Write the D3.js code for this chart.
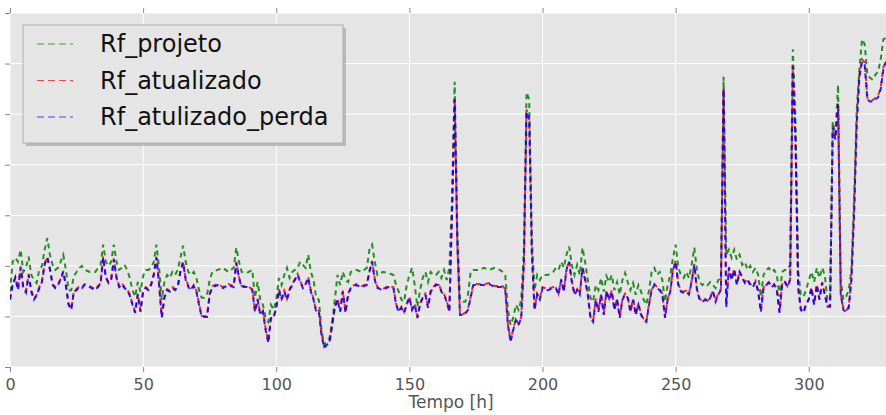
<!DOCTYPE html>
<html>
<head>
<meta charset="utf-8">
<script src="https://cdn.jsdelivr.net/npm/d3@7/dist/d3.min.js"></script>
<style>
    body { margin: 0; background: #fff; }
    svg { display: block; font-family: "DejaVu Sans", sans-serif; }
</style>
</head>
<body>
<svg id="chart" width="886" height="415"></svg>
<script>
var hours = [0,1,2,3,4,5,6,7,8,9,10,11,12,13,14,15,16,17,18,19,20,21,22,23,24,25,26,27,28,30,32,34,35,36,37,38,39,40,
    41,42,43,44,45,46,47,48,49,50,51,52,53,54,55,56,57,58,59,60,61,62,63,64,65,66,67,68,69,70,71,72,73,74,75,76,78,80,82,84,85,86,87,89,
    91,92,93,94,95,96,97,98,99,100,101,102,103,104,105,106,108,109,110,111,112,113,114,115,116,117,118,119,120,121,122,123,124,125,126,127,128,130,132,134,135,136,137,138,140,142,144,145,146,147,148,149,
    150,151,152,153,154,155,156,157,158,159,160,161,162,163,164,165,166,167,168,169,170,171,172,173,174,176,178,180,182,184,185,186,187,188,189,190,191,192,193,194,195,196,197,198,199,
    200,202,204,205,206,207,208,209,210,211,212,213,214,215,216,217,218,219,220,221,222,223,224,225,226,227,228,229,230,231,232,233,234,235,236,237,238,239,240,241,242,243,244,245,246,247,248,249,
    250,251,252,253,254,255,256,257,258,259,260,261,262,263,264,265,266,267,268,269,270,271,272,273,274,275,276,277,278,279,280,281,282,283,284,285,286,287,288,289,290,291,292,293,294,295,296,297,298,299,
    300,301,302,303,304,305,306,307,308,309,310,311,312,313,314,315,316,317,318,319,320,321,322,323,324,325,326,327,328,329];

var rfProjeto = [1.49,2.08,2.16,2.08,2.32,1.88,1.96,2.18,1.82,1.72,1.66,1.92,2.00,2.32,2.55,2.22,2.02,1.92,1.96,2.08,2.22,1.92,1.52,1.52,1.80,1.88,1.96,2.00,1.92,1.88,1.88,2.02,2.42,2.08,2.00,2.08,2.42,2.08,
    1.92,1.96,2.02,1.92,1.76,1.52,1.39,1.68,1.49,1.80,1.92,1.92,1.96,2.08,2.42,1.96,1.33,1.68,1.82,1.76,1.88,1.82,1.92,2.16,2.40,2.08,1.88,1.82,1.88,1.76,1.52,1.37,1.37,1.43,1.72,1.88,1.92,1.96,1.88,1.96,2.36,2.08,1.88,1.86,
    1.92,1.37,1.68,1.33,1.23,0.97,0.89,1.23,1.13,1.33,1.76,1.62,1.82,1.96,1.76,1.88,1.96,2.08,2.02,1.96,2.22,1.88,1.72,1.37,1.33,0.73,0.44,0.53,0.57,0.89,1.33,1.82,1.62,1.88,1.72,1.68,1.88,1.92,1.88,1.96,2.32,2.42,2.08,1.82,1.88,1.86,1.82,1.62,1.49,1.33,1.29,1.62,
    1.82,1.96,1.62,1.19,1.52,1.76,1.88,1.68,1.88,1.82,1.82,1.88,1.76,1.92,1.72,1.96,3.31,5.64,2.71,1.33,1.29,1.29,1.43,1.88,1.92,1.92,1.96,1.92,1.96,1.92,1.88,1.82,1.13,0.83,0.97,1.23,1.13,1.33,2.32,5.43,5.29,2.51,1.52,1.82,1.72,
    1.82,1.82,1.88,1.96,1.92,2.08,1.96,2.22,2.38,2.02,1.82,2.02,1.82,2.36,2.08,1.72,1.37,1.29,1.62,1.52,1.76,1.49,1.80,1.68,1.82,1.52,1.68,1.43,1.72,1.86,1.68,1.52,1.66,1.43,1.62,1.49,1.33,1.23,1.52,1.88,1.96,1.82,1.88,1.72,1.29,1.62,1.82,2.16,
    2.42,1.96,1.82,1.76,1.88,1.76,2.02,2.36,1.92,1.68,1.62,1.66,1.62,1.68,1.62,1.56,1.72,1.76,5.74,2.22,2.32,2.16,2.32,2.12,2.22,2.02,2.08,1.92,2.00,1.88,1.96,1.82,1.39,1.82,1.92,1.96,1.88,1.92,1.82,1.39,1.88,1.92,1.92,2.02,6.28,4.89,1.92,1.43,1.39,1.52,
    1.72,1.88,1.68,1.96,1.76,1.96,1.82,1.33,1.33,4.85,4.59,5.58,1.72,1.33,1.39,1.52,1.92,3.31,5.09,5.88,6.48,6.38,5.78,5.72,5.68,5.78,5.84,6.08,6.48,6.51];

var rfAtualizado = [1.35,1.64,1.78,1.55,1.99,1.58,1.50,1.84,1.51,1.35,1.43,1.58,1.70,2.05,2.18,1.95,1.64,1.58,1.64,1.74,1.90,1.62,1.25,1.15,1.51,1.54,1.60,1.58,1.64,1.60,1.54,1.66,2.19,1.78,1.68,1.74,2.15,1.78,
    1.60,1.66,1.58,1.54,1.43,1.25,1.09,1.45,1.11,1.51,1.58,1.54,1.64,1.84,2.18,1.64,0.99,1.39,1.54,1.51,1.58,1.54,1.60,1.90,2.09,1.74,1.60,1.54,1.62,1.51,1.25,1.01,1.01,1.01,1.45,1.60,1.64,1.58,1.64,1.60,2.08,1.78,1.60,1.60,
    1.54,1.11,1.35,1.05,1.11,0.76,0.50,0.99,0.99,1.19,1.54,1.35,1.51,1.35,1.54,1.64,1.84,1.70,1.58,1.64,1.78,1.51,1.35,1.11,1.11,0.65,0.40,0.46,0.50,0.85,1.19,1.35,1.11,1.51,1.09,1.45,1.58,1.64,1.60,1.64,1.90,2.10,1.74,1.58,1.54,1.60,1.58,1.25,1.11,1.19,1.09,1.25,
    1.39,1.15,1.25,0.99,1.25,1.39,1.45,1.19,1.51,1.58,1.64,1.64,1.51,1.45,1.31,1.11,3.04,5.33,2.45,1.05,1.05,1.07,1.15,1.39,1.64,1.64,1.64,1.66,1.60,1.60,1.60,1.54,0.85,0.52,0.75,0.95,0.85,0.99,2.05,5.09,4.93,2.25,1.15,1.45,1.35,
    1.58,1.54,1.58,1.58,1.45,1.74,1.51,1.94,2.10,1.70,1.45,1.54,1.45,1.98,1.74,1.45,0.99,0.91,1.35,1.11,1.45,1.05,1.51,1.35,1.51,1.15,1.35,0.99,1.35,1.45,1.39,1.11,1.35,1.05,1.25,1.05,0.95,0.91,1.25,1.54,1.64,1.58,1.54,1.45,0.99,1.35,1.51,1.94,
    2.10,1.64,1.51,1.49,1.51,1.45,1.70,2.04,1.54,1.35,1.31,1.35,1.31,1.39,1.51,1.31,1.45,1.54,5.52,1.21,1.98,1.74,1.94,1.64,1.90,1.78,1.68,1.74,1.64,1.60,1.70,1.51,1.11,1.58,1.64,1.68,1.60,1.64,1.54,1.09,1.64,1.70,1.60,1.74,5.98,4.54,1.60,1.15,1.09,1.25,
    1.35,1.58,1.25,1.64,1.35,1.68,1.45,1.21,1.21,4.77,4.53,5.23,1.45,1.15,1.11,1.19,1.74,3.04,4.82,5.77,6.08,6.02,5.32,5.28,5.28,5.32,5.36,5.52,5.92,6.08];

var rfAtulizadoPerda = [1.33,1.62,1.76,1.52,1.96,1.56,1.47,1.82,1.49,1.33,1.41,1.56,1.68,2.02,2.16,1.92,1.62,1.56,1.62,1.72,1.88,1.60,1.23,1.13,1.49,1.52,1.58,1.56,1.62,1.58,1.52,1.64,2.16,1.76,1.66,1.72,2.12,1.76,
    1.58,1.64,1.56,1.52,1.41,1.23,1.07,1.43,1.09,1.49,1.56,1.52,1.62,1.82,2.16,1.62,0.97,1.37,1.52,1.49,1.56,1.52,1.58,1.88,2.06,1.72,1.58,1.52,1.60,1.49,1.23,0.99,0.99,0.99,1.43,1.58,1.62,1.56,1.62,1.58,2.06,1.76,1.58,1.58,
    1.52,1.09,1.33,1.03,1.09,0.73,0.48,0.97,0.97,1.17,1.52,1.33,1.49,1.33,1.52,1.62,1.82,1.68,1.56,1.62,1.76,1.49,1.33,1.09,1.09,0.63,0.38,0.44,0.48,0.83,1.17,1.33,1.09,1.49,1.07,1.43,1.56,1.62,1.58,1.62,1.88,2.08,1.72,1.56,1.52,1.58,1.56,1.23,1.09,1.17,1.07,1.23,
    1.37,1.13,1.23,0.97,1.23,1.37,1.43,1.17,1.49,1.56,1.62,1.62,1.49,1.43,1.29,1.09,3.01,5.29,2.42,1.03,1.03,1.05,1.13,1.37,1.62,1.62,1.62,1.64,1.58,1.58,1.58,1.52,0.83,0.50,0.73,0.93,0.83,0.97,2.02,5.05,4.89,2.22,1.13,1.43,1.33,
    1.56,1.52,1.56,1.56,1.43,1.72,1.49,1.92,2.08,1.68,1.43,1.52,1.43,1.96,1.72,1.43,0.97,0.89,1.33,1.09,1.43,1.03,1.49,1.33,1.49,1.13,1.33,0.97,1.33,1.43,1.37,1.09,1.33,1.03,1.23,1.03,0.93,0.89,1.23,1.52,1.62,1.56,1.52,1.43,0.97,1.33,1.49,1.92,
    2.08,1.62,1.49,1.47,1.49,1.43,1.68,2.02,1.52,1.33,1.29,1.33,1.29,1.37,1.49,1.29,1.43,1.52,5.49,1.19,1.96,1.72,1.92,1.62,1.88,1.76,1.66,1.72,1.62,1.58,1.68,1.49,1.09,1.56,1.62,1.66,1.58,1.62,1.52,1.07,1.62,1.68,1.58,1.72,5.94,4.50,1.58,1.13,1.07,1.23,
    1.33,1.56,1.23,1.62,1.33,1.66,1.43,1.19,1.19,4.73,4.50,5.19,1.43,1.13,1.09,1.17,1.72,3.01,4.79,5.74,6.04,5.98,5.29,5.25,5.25,5.29,5.33,5.49,5.88,6.04];

var seriesNames = ["Rf_projeto", "Rf_atualizado", "Rf_atulizado_perda"];
var seriesColors = ["#008000", "#ff0000", "#0000ff"];
var xTicks = [0, 50, 100, 150, 200, 250, 300];
var yTicks = [0, 1, 2, 3, 4, 5, 6, 7];

var svg = d3.select("#chart");
var margin = {left: 10, top: 13, right: 0, bottom: 48};
var width = 886 - margin.left - margin.right;
var height = 415 - margin.top - margin.bottom;

var x = d3.scaleLinear().domain([0, 329]).range([0, width]);
var y = d3.scaleLinear().domain([0, 7]).range([height, 0]);

var g = svg.append("g").attr("transform", "translate(" + margin.left + "," + margin.top + ")");

g.append("rect").attr("width", width).attr("height", height).attr("fill", "#e5e5e5");

// white grid
g.selectAll(".vgrid").data(xTicks).enter().append("line")
    .attr("x1", function(d){ return x(d); }).attr("x2", function(d){ return x(d); })
    .attr("y1", 0).attr("y2", height)
    .attr("stroke", "#fff").attr("stroke-width", 1);
g.selectAll(".hgrid").data(yTicks).enter().append("line")
    .attr("y1", function(d){ return y(d); }).attr("y2", function(d){ return y(d); })
    .attr("x1", 0).attr("x2", width)
    .attr("stroke", "#fff").attr("stroke-width", 1);

// axes: ticks outward, no domain line
var xAxis = g.append("g").attr("transform", "translate(0," + height + ")")
    .call(d3.axisBottom(x).tickValues(xTicks).tickSize(5).tickPadding(7).tickFormat(d3.format("d")));
var xTop = g.append("g").call(d3.axisTop(x).tickValues(xTicks).tickSize(5).tickFormat(""));
var yAxis = g.append("g").call(d3.axisLeft(y).tickValues(yTicks).tickSize(5).tickFormat(""));
[xAxis, xTop, yAxis].forEach(function(a){
    a.select(".domain").remove();
    a.selectAll(".tick line").attr("stroke", "#888");
});
xAxis.selectAll("text").attr("fill", "#555").attr("font-size", "16px")
    .attr("font-family", "DejaVu Sans, sans-serif");

svg.append("text")
    .attr("x", margin.left + width / 2 + 3).attr("y", 408)
    .attr("text-anchor", "middle").attr("fill", "#555")
    .attr("font-size", "17px")
    .text("Tempo [h]");

// lines
svg.append("defs").append("clipPath").attr("id", "plotClip")
    .append("rect").attr("width", width).attr("height", height);

var seriesData = [rfProjeto, rfAtualizado, rfAtulizadoPerda];
var line = d3.line()
    .x(function(d){ return x(d[0]); })
    .y(function(d){ return y(d[1]); });

var plot = g.append("g").attr("clip-path", "url(#plotClip)");
seriesData.forEach(function(vals, i){
    plot.append("path")
        .datum(hours.map(function(h, j){ return [h, vals[j]]; }))
        .attr("d", line)
        .attr("fill", "none")
        .attr("stroke", seriesColors[i])
        .attr("stroke-opacity", 0.85)
        .attr("stroke-width", 2)
        .attr("stroke-dasharray", "5,4");
});

// legend with drop shadow
var legend = svg.append("g").attr("transform", "translate(23,25)");
legend.append("rect").attr("x", 3).attr("y", 3).attr("width", 320).attr("height", 118)
    .attr("fill", "#9a9a9a").attr("opacity", 0.6);
legend.append("rect").attr("width", 320).attr("height", 118)
    .attr("fill", "#e5e5e5").attr("stroke", "#b0b0b0").attr("stroke-width", 1);

seriesNames.forEach(function(name, i){
    var yy = 19 + i * 36.5;
    legend.append("line")
        .attr("x1", 14).attr("x2", 50).attr("y1", yy).attr("y2", yy)
        .attr("stroke", seriesColors[i]).attr("stroke-opacity", 0.7)
        .attr("stroke-width", 1.2).attr("stroke-dasharray", "7,4");
    legend.append("text")
        .attr("x", 77).attr("y", yy + 8)
        .attr("font-size", "24px").attr("fill", "#111")
        .text(name);
});
</script>
</body>
</html>
